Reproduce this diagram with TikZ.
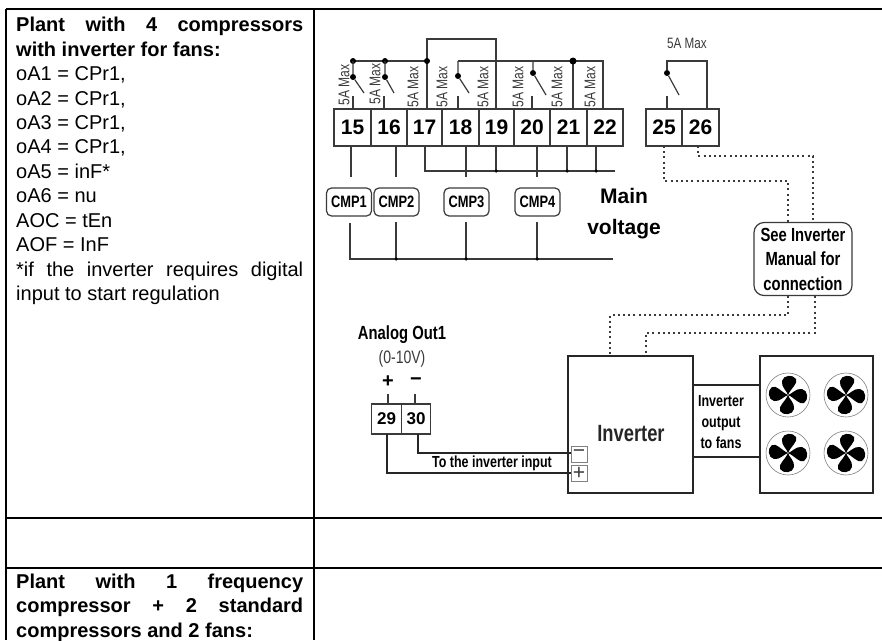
\documentclass[tikz,border=0pt]{standalone}
\usepackage{fontspec, tkz-euclide}
\setmainfont{Liberation Sans}
\newfontfamily\narrowfont[FakeStretch=0.78]{Liberation Sans}
\definecolor{wire}{HTML}{3A3A3A}
\tikzset{
  rule/.style={line width=2pt, black},
  cable/.style={line width=1.2pt, wire},
  heavy/.style={line width=2.8pt, black!85},
  dots/.style={line width=1.6pt, wire, dash pattern=on 2pt off 3.2pt},
  joint/.style={circle, fill=black, inner sep=0pt, minimum size=#1},
  clamp/.style={draw=wire, line width=1.3pt, minimum width=#1, minimum height=37pt, inner sep=0pt, font=\fontsize{21}{21}\bfseries},
  clampsmall/.style={draw=wire, line width=1.2pt, minimum width=29.5pt, minimum height=30pt, inner sep=0pt, font=\fontsize{17}{17}\bfseries},
  rate/.style={rotate=90, inner sep=0pt, text=wire, font=\fontsize{15.5}{15.5}\narrowfont},
  cmp/.style={draw=wire, line width=1.2pt, rounded corners=5pt, minimum width=45pt, minimum height=28pt, inner sep=0pt, font=\fontsize{16.5}{16.5}\narrowfont\bfseries},
  sign/.style={draw=gray, line width=.7pt, minimum width=16pt, minimum height=16pt, inner sep=0pt, text=wire, font=\fontsize{21}{21}\selectfont},
  tag/.style={inner sep=0pt, align=center, font=\fontsize{15}{20}\narrowfont},
  cell/.style={anchor=north west, inner sep=0pt, text width=287pt, align=justify, font=\fontsize{20}{24.45}\selectfont, execute at begin node={\hyphenpenalty=10000 \exhyphenpenalty=10000 }},
  fanwheel/.pic={
    \draw[gray, line width=.6pt] (0,0) circle (22);
    \foreach \ang in {0,90,180,270}
      \fill[black, rotate=\ang] (0,0) .. controls (-1,-4) and (-7,-8) .. (-6,-14) .. controls (-5,-20) and (5,-21) .. (8,-16) .. controls (10,-11) and (3,-7) .. (0,0);
  }
}
\begin{document}
\begin{tikzpicture}[x=1pt, y=-1pt]
\useasboundingbox (0,0) rectangle (882,640);
\tkzDefPoints{6/9/TL, 882/9/TR, 6/518/ML, 882/518/MR, 6/568/BL, 882/568/BR, 6/640/EL, 314/9/CT, 314/640/CB}
\draw[rule] (TL) -- (TR);
\draw[rule] (ML) -- (MR);
\draw[rule] (BL) -- (BR);
\draw[rule] (TL) -- (EL);
\draw[rule] (CT) -- (CB);
\node[cell] (plantA) at (16,17) {\textbf{Plant with 4 compressors\linebreak with inverter for fans:}\\[0pt]
oA1 = CPr1,\\[0pt] oA2 = CPr1,\\[0pt] oA3 = CPr1,\\[0pt] oA4 = CPr1,\\[0pt] oA5 = inF*\\[0pt] oA6 = nu\\[0pt] AOC = tEn\\[0pt] AOF = InF\\[0pt]
{*}if the inverter requires digital\linebreak input to start regulation};
\node[cell] (plantB) at (16,573.5) {\textbf{Plant with 1 frequency\linebreak compressor + 2 standard\linebreak compressors and 2 fans:}};
\foreach \num/\xc/\wid in {15/352.5/37, 16/389/36, 17/424.5/35, 18/460.5/37, 19/496.5/35, 20/532/36, 21/568.5/37, 22/605/36, 25/664/36, 26/700.5/37}
  \node[clamp=\wid pt] (t\num) at (\xc,127.5) {\num};
\foreach \num/\xc/\yc in {15/344/85, 16/375/84, 17/413/87, 18/442/87, 19/483/87, 20/518/87, 21/557/87, 22/590/87}
  \node[rate] (r\num) at (\xc,\yc) {5A Max};
\tkzDefPoints{353/61/a, 385/61/b, 427/61/c, 427/39/d, 496/39/e, 496/109/f, 427/109/g, 458/61/h, 603/61/i, 603/109/j, 573/61/k, 573/109/l, 533/61/m}
\draw[cable] (a) -- (c);
\draw[cable] (c) -- (g);
\draw[cable] (c) -- (d) -- (e) -- (f);
\draw[cable] (h) -- (i) -- (j);
\draw[cable] (k) -- (l);
\node[joint=6pt] (ja) at (a) {};
\node[joint=6pt] (jb) at (b) {};
\node[joint=6pt] (jc) at (c) {};
\node[joint=7pt] (jk) at (k) {};
\tkzDefPoints{353/93/a1, 364/93/a2, 353/96/a3, 353/109/a4, 385/93/b1, 394/93/b2, 384/96/b3, 384/109/b4, 458/93/h1, 469/93/h2, 458/96/h3, 458/109/h4, 546/95/m2, 532/96/m3, 532/109/m4}
\node[joint=6pt] (ka) at (353,77) {};
\node[joint=6pt] (kb) at (385,77) {};
\node[joint=6pt] (kh) at (458,76) {};
\node[joint=6pt] (km) at (533,73) {};
\draw[cable] (a) -- (ka) -- (a2);
\draw[cable] (a3) -- (a4);
\draw[cable] (b) -- (kb) -- (b2);
\draw[cable] (b3) -- (b4);
\draw[cable] (h) -- (kh) -- (h2);
\draw[cable] (h3) -- (h4);
\draw[cable] (m) -- (km) -- (m2);
\draw[cable] (m3) -- (m4);
\node[cmp] (cmpA) at (349,202) {CMP1};
\node[cmp] (cmpB) at (396.5,202) {CMP2};
\node[cmp] (cmpC) at (466.5,202) {CMP3};
\node[cmp] (cmpD) at (537.5,202) {CMP4};
\tkzDefPoints{351/146/u, 351/177/v, 396/146/u2, 396/177/v2, 466/146/u3, 466/177/v3, 537/146/u4, 537/177/v4}
\draw[cable] (u) -- (v);
\draw[cable] (u2) -- (v2);
\draw[cable] (u3) -- (v3);
\draw[cable] (u4) -- (v4);
\tkzDefPoints{425/146/n1, 425/171/n2, 615/171/n3, 496/146/o1, 496/171/o2, 567/146/p1, 567/171/p2, 596/146/q1, 596/171/q2}
\draw[cable] (n1) -- (n2) -- (n3);
\draw[cable] (o1) -- (o2);
\draw[cable] (p1) -- (p2);
\draw[cable] (q1) -- (q2);
\node[joint=3.5pt] (jo) at (o2) {};
\node[joint=3.5pt] (jp) at (p2) {};
\node[joint=3.5pt] (jq) at (q2) {};
\tkzDefPoints{350/223/s1, 350/259/s2, 613/259/s3, 396/222/w1, 396/259/w2, 466/222/x1, 466/259/x2, 537/222/y1, 537/259/y2}
\draw[cable] (s1) -- (s2) -- (s3);
\draw[cable] (w1) -- (w2);
\draw[cable] (x1) -- (x2);
\draw[cable] (y1) -- (y2);
\node[joint=3.5pt] (jw) at (w2) {};
\node[joint=3.5pt] (jx) at (x2) {};
\node[joint=3.5pt] (jy) at (y2) {};
\node[inner sep=0pt, align=center, font=\fontsize{21}{31}\bfseries] (mainv) at (624,214) {Main\\voltage};
\node[tag, text=wire] (rateB) at (687,43) {5A Max};
\tkzDefPoints{667/61/z1, 707/61/z2, 707/109/z3, 679/95/z4, 667/96/z5, 667/109/z6}
\node[joint=6pt] (kz) at (667,73) {};
\draw[cable] (kz) -- (z1) -- (z2) -- (z3);
\draw[cable] (kz) -- (z4);
\draw[cable] (z5) -- (z6);
\node[draw=wire, line width=1.2pt, rounded corners=10pt, minimum width=98pt, minimum height=73pt, inner sep=0pt, font=\fontsize{19}{24.5}\narrowfont\bfseries, align=center] (manual) at (803,259) {See Inverter\\Manual for\\connection};
\tkzDefPoints{664/146/da, 664/181/db, 788/181/dc, 788/223/dd, 698/146/ea, 698/156/eb, 813/156/ec, 813/223/ed}
\draw[dots] (da) -- (db) -- (dc) -- (dd);
\draw[dots] (ea) -- (eb) -- (ec) -- (ed);
\tkzDefPoints{788/296/fa, 788/315/fb, 610/315/fc, 610/356/fd, 815/296/ga, 815/333/gb, 646/333/gc, 646/356/gd}
\draw[dots] (fa) -- (fb) -- (fc) -- (fd);
\draw[dots] (ga) -- (gb) -- (gc) -- (gd);
\node[draw=black!85, line width=2.6pt, minimum width=125pt, minimum height=137pt, inner sep=0pt] (invbox) at (630.5,424.5) {};
\node[draw=black!85, line width=2.6pt, minimum width=113pt, minimum height=137pt, inner sep=0pt] (fanbox) at (816.5,424.5) {};
\node[inner sep=0pt, font=\fontsize{23.5}{23.5}\narrowfont\bfseries, text=black!85] (invlabel) at (631,434) {Inverter};
\tkzDefPoints{693/385/oa, 760/385/ob, 693/457/oc, 760/457/od}
\draw[heavy] (oa) -- (ob);
\draw[heavy] (oc) -- (od);
\node[tag, font=\fontsize{16}{21}\narrowfont\bfseries] (outlabel) at (721,422) {Inverter\\output\\to fans};
\pic (fanA) at (788,395) {fanwheel};
\pic (fanB) at (846,395) {fanwheel};
\pic (fanC) at (788,453) {fanwheel};
\pic (fanD) at (846,453) {fanwheel};
\node[tag, font=\fontsize{19}{19}\narrowfont\bfseries] (analog) at (402,335) {Analog Out1};
\node[tag, font=\fontsize{18}{18}\narrowfont, text=wire] (range) at (402,359) {(0-10V)};
\node[clampsmall] (t29) at (386.5,419) {29};
\node[clampsmall] (t30) at (416,419) {30};
\node[inner sep=0pt, font=\fontsize{20}{20}\bfseries] (plus) at (388,382) {+};
\node[inner sep=0pt, font=\fontsize{20}{20}\bfseries] (minus) at (416,382) {\symbol{"2212}};
\tkzDefPoints{388/394/pa, 388/404/pb, 415/394/ma, 415/404/mb, 418/434/wa, 418/453/wb, 571/453/wc, 387/434/va, 387/473/vb, 571/473/vc}
\draw[cable] (pa) -- (pb);
\draw[cable] (ma) -- (mb);
\draw[heavy] (wa) -- (wb) -- (wc);
\draw[heavy] (va) -- (vb) -- (vc);
\node[tag, font=\fontsize{16}{16}\narrowfont\bfseries] (tolabel) at (492,463) {To the inverter input};
\node[sign, fill=white] (sminus) at (579,454) {\symbol{"2212}};
\node[sign, fill=white] (splus) at (579,473) {+};
\end{tikzpicture}
\end{document}
